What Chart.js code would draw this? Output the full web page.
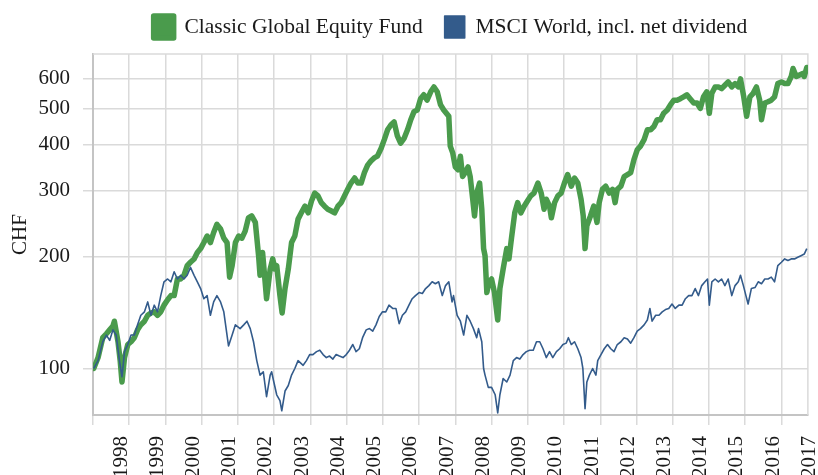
<!DOCTYPE html>
<html>
<head>
<meta charset="utf-8">
<script src="https://cdn.jsdelivr.net/npm/chart.js@4"></script>
<style>
  html, body { margin: 0; padding: 0; background: #fff; overflow: hidden; }
  #wrap { width: 818px; height: 480px; }
</style>
</head>
<body>
<div id="wrap"><canvas id="perf" width="818" height="480"></canvas></div>
<script>
const green = "#4a9b4c";
const blue = "#335b8b";

const yearLabels = [1998, 1999, 2000, 2001, 2002, 2003, 2004, 2005, 2006, 2007,
  2008, 2009, 2010, 2011, 2012, 2013, 2014, 2015, 2016, 2017];
const yTicks = [100, 200, 300, 400, 500, 600];

// Classic Global Equity Fund (indexed, CHF)
const fundDates = [
  1998.02, 1998.14, 1998.27, 1998.37, 1998.46, 1998.55, 1998.59, 1998.69, 1998.75, 1998.80,
  1998.87, 1998.96, 1999.05, 1999.14, 1999.23, 1999.32, 1999.42, 1999.51, 1999.60, 1999.69,
  1999.78, 1999.87, 1999.96, 2000.06, 2000.15, 2000.24, 2000.33, 2000.42, 2000.51, 2000.60,
  2000.69, 2000.79, 2000.88, 2000.97, 2001.06, 2001.15, 2001.24, 2001.33, 2001.42, 2001.52,
  2001.61, 2001.70, 2001.77, 2001.84, 2001.93, 2002.02, 2002.11, 2002.20, 2002.29, 2002.38,
  2002.48, 2002.57, 2002.61, 2002.68, 2002.75, 2002.79, 2002.89, 2002.96, 2003.02, 2003.07,
  2003.16, 2003.22, 2003.30, 2003.39, 2003.48, 2003.57, 2003.66, 2003.75, 2003.85, 2003.94,
  2004.03, 2004.12, 2004.21, 2004.30, 2004.39, 2004.48, 2004.58, 2004.67, 2004.76, 2004.85,
  2004.94, 2005.03, 2005.12, 2005.22, 2005.31, 2005.40, 2005.49, 2005.58, 2005.67, 2005.76,
  2005.85, 2005.95, 2006.04, 2006.13, 2006.22, 2006.31, 2006.40, 2006.49, 2006.59, 2006.68,
  2006.77, 2006.86, 2006.95, 2007.04, 2007.13, 2007.22, 2007.32, 2007.41, 2007.50, 2007.59,
  2007.68, 2007.82, 2007.86, 2007.93, 2008.00, 2008.07, 2008.14, 2008.20, 2008.27, 2008.35,
  2008.41, 2008.47, 2008.53, 2008.59, 2008.67, 2008.73, 2008.78, 2008.82, 2008.87, 2008.93,
  2009.00, 2009.08, 2009.11, 2009.17, 2009.23, 2009.32, 2009.42, 2009.48, 2009.55, 2009.64,
  2009.72, 2009.81, 2009.90, 2009.99, 2010.08, 2010.17, 2010.28, 2010.37, 2010.45, 2010.51,
  2010.60, 2010.65, 2010.74, 2010.83, 2010.92, 2011.01, 2011.10, 2011.20, 2011.29, 2011.38,
  2011.47, 2011.53, 2011.58, 2011.63, 2011.73, 2011.82, 2011.91, 2011.97, 2012.06, 2012.15,
  2012.25, 2012.34, 2012.41, 2012.47, 2012.57, 2012.66, 2012.75, 2012.84, 2012.93, 2013.02,
  2013.11, 2013.21, 2013.30, 2013.39, 2013.48, 2013.57, 2013.66, 2013.75, 2013.85, 2013.94,
  2014.03, 2014.12, 2014.21, 2014.30, 2014.39, 2014.48, 2014.58, 2014.67, 2014.76, 2014.85,
  2014.94, 2015.01, 2015.08, 2015.17, 2015.26, 2015.35, 2015.44, 2015.53, 2015.63, 2015.72,
  2015.81, 2015.87, 2015.96, 2016.04, 2016.13, 2016.22, 2016.31, 2016.40, 2016.45, 2016.54,
  2016.63, 2016.72, 2016.81, 2016.90, 2017.00, 2017.09, 2017.18, 2017.27, 2017.32, 2017.41,
  2017.50, 2017.59, 2017.63, 2017.70
];
const fundValues = [
  100, 107, 121, 124, 127, 130, 134, 118, 105, 92,
  107, 116, 118, 121, 127, 131, 134, 139, 141, 142,
  139, 142, 148, 153, 157, 157, 174, 174, 178, 189,
  193, 197, 205, 210, 218, 227, 218, 232, 244, 237,
  224, 218, 176, 189, 218, 227, 224, 234, 254, 257,
  247, 201, 178, 205, 171, 154, 185, 197, 185, 189,
  157, 141, 164, 185, 218, 227, 252, 262, 273, 262,
  282, 296, 291, 279, 273, 268, 265, 262, 273, 279,
  291, 303, 315, 325, 315, 315, 336, 352, 361, 368,
  372, 390, 412, 438, 451, 460, 422, 403, 416, 438,
  466, 490, 495, 531, 544, 526, 554, 571, 554, 512,
  495, 476, 396, 379, 348, 342, 372, 328, 336, 348,
  328, 291, 257, 296, 315, 268, 210, 201, 160, 171,
  174, 160, 151, 135, 164, 185, 210, 197, 224, 262,
  279, 262, 273, 282, 291, 296, 315, 296, 268, 285,
  273, 254, 279, 291, 296, 315, 332, 309, 325, 315,
  285, 257, 210, 242, 257, 273, 247, 279, 303, 309,
  296, 303, 279, 303, 309, 328, 332, 336, 364, 387,
  396, 412, 438, 438, 447, 466, 466, 485, 495, 512,
  526, 526, 531, 537, 544, 531, 517, 517, 500, 537,
  554, 485, 549, 571, 571, 565, 577, 589, 571, 583,
  571, 600, 537, 476, 537, 549, 571, 526, 466, 517,
  521, 526, 537, 583, 589, 583, 583, 609, 640, 609,
  615, 621, 609, 644
];

// MSCI World, incl. net dividend (indexed, CHF)
const msciDates = [
  1998.02, 1998.14, 1998.27, 1998.37, 1998.46, 1998.55, 1998.64, 1998.73, 1998.80, 1998.87,
  1998.96, 1999.05, 1999.14, 1999.23, 1999.32, 1999.42, 1999.51, 1999.60, 1999.69, 1999.78,
  1999.87, 1999.96, 2000.06, 2000.15, 2000.24, 2000.33, 2000.42, 2000.51, 2000.60, 2000.69,
  2000.79, 2000.88, 2000.97, 2001.06, 2001.15, 2001.24, 2001.33, 2001.42, 2001.52, 2001.61,
  2001.74, 2001.84, 2001.93, 2002.06, 2002.16, 2002.25, 2002.34, 2002.43, 2002.52, 2002.61,
  2002.70, 2002.79, 2002.89, 2002.93, 2002.98, 2003.07, 2003.16, 2003.21, 2003.30, 2003.39,
  2003.48, 2003.57, 2003.66, 2003.80, 2003.89, 2003.98, 2004.07, 2004.17, 2004.26, 2004.35,
  2004.44, 2004.53, 2004.62, 2004.71, 2004.80, 2004.90, 2004.99, 2005.08, 2005.17, 2005.26,
  2005.35, 2005.44, 2005.54, 2005.63, 2005.72, 2005.81, 2005.90, 2005.99, 2006.08, 2006.17,
  2006.27, 2006.36, 2006.45, 2006.54, 2006.63, 2006.72, 2006.81, 2006.90, 2007.00, 2007.09,
  2007.18, 2007.27, 2007.36, 2007.45, 2007.54, 2007.64, 2007.73, 2007.82, 2007.91, 2007.95,
  2008.05, 2008.14, 2008.23, 2008.32, 2008.41, 2008.50, 2008.59, 2008.64, 2008.73, 2008.78,
  2008.82, 2008.91, 2009.00, 2009.10, 2009.17, 2009.23, 2009.32, 2009.42, 2009.51, 2009.60,
  2009.69, 2009.78, 2009.87, 2009.96, 2010.05, 2010.15, 2010.24, 2010.33, 2010.42, 2010.51,
  2010.60, 2010.69, 2010.79, 2010.88, 2010.97, 2011.06, 2011.12, 2011.20, 2011.29, 2011.38,
  2011.47, 2011.52, 2011.58, 2011.63, 2011.70, 2011.79, 2011.88, 2011.93, 2012.02, 2012.11,
  2012.20, 2012.29, 2012.38, 2012.47, 2012.57, 2012.66, 2012.75, 2012.84, 2012.93, 2013.02,
  2013.11, 2013.21, 2013.30, 2013.37, 2013.43, 2013.53, 2013.62, 2013.71, 2013.80, 2013.89,
  2013.98, 2014.07, 2014.17, 2014.26, 2014.35, 2014.44, 2014.53, 2014.62, 2014.71, 2014.80,
  2014.89, 2014.96, 2015.01, 2015.08, 2015.17, 2015.26, 2015.35, 2015.44, 2015.53, 2015.63,
  2015.72, 2015.81, 2015.87, 2015.95, 2016.02, 2016.08, 2016.17, 2016.27, 2016.36, 2016.45,
  2016.54, 2016.63, 2016.72, 2016.81, 2016.90, 2017.00, 2017.09, 2017.18, 2017.27, 2017.36,
  2017.45, 2017.54, 2017.63, 2017.70
];
const msciValues = [
  100, 105, 118, 123, 119, 127, 123, 105, 95, 111,
  116, 123, 123, 131, 139, 142, 151, 139, 148, 142,
  157, 171, 174, 171, 182, 174, 178, 174, 178, 187,
  178, 171, 164, 154, 157, 139, 151, 157, 151, 142,
  115, 123, 131, 128, 131, 134, 128, 118, 105, 96,
  98, 84, 96, 98, 93, 85, 82, 77, 87, 90,
  96, 100, 105, 102, 105, 109, 109, 111, 112, 109,
  107, 108, 106, 109, 108, 107, 109, 112, 116, 111,
  113, 121, 127, 128, 126, 131, 138, 142, 142, 148,
  145, 145, 132, 139, 142, 148, 154, 157, 160, 159,
  164, 167, 171, 169, 171, 157, 167, 171, 151, 157,
  139, 134, 123, 139, 134, 128, 121, 128, 118, 100,
  96, 89, 89, 85, 76, 85, 94, 92, 96, 105,
  107, 106, 109, 111, 112, 112, 118, 118, 113, 107,
  111, 107, 111, 113, 116, 117, 121, 116, 118, 113,
  107, 100, 78, 92, 96, 100, 96, 105, 109, 113,
  116, 113, 111, 116, 118, 121, 120, 117, 121, 126,
  128, 131, 135, 145, 134, 139, 139, 142, 144, 145,
  149, 145, 148, 148, 154, 157, 157, 164, 157, 167,
  171, 174, 148, 171, 174, 171, 174, 167, 174, 157,
  167, 171, 178, 167, 157, 149, 164, 165, 171, 169,
  174, 174, 176, 171, 189, 193, 197, 195, 197, 197,
  199, 201, 203, 210
];

const serif = "'Liberation Serif', 'Times New Roman', serif";
const textColor = "#1a1a1a";
const gridColor = "#dadada";
const axisColor = "#c4c4c4";

const toPoints = (xs, ys) => xs.map((x, i) => ({ x: x, y: ys[i] }));

// light frame on the top and right edge of the plot area
const frame = {
  id: "frame",
  beforeDatasetsDraw(chart) {
    const a = chart.chartArea;
    const ctx = chart.ctx;
    ctx.save();
    ctx.strokeStyle = gridColor;
    ctx.lineWidth = 1.5;
    ctx.beginPath();
    ctx.moveTo(a.left, a.top);
    ctx.lineTo(a.right, a.top);
    ctx.lineTo(a.right, a.bottom);
    ctx.stroke();
    ctx.restore();
  },
};

new Chart(document.getElementById("perf"), {
  type: "line",
  data: {
    datasets: [
      {
        label: "Classic Global Equity Fund",
        data: toPoints(fundDates, fundValues),
        borderColor: green,
        backgroundColor: green,
        borderWidth: 5.5,
        borderJoinStyle: "round",
        borderCapStyle: "round",
        pointRadius: 0,
        order: 1,
      },
      {
        label: "MSCI World, incl. net dividend",
        data: toPoints(msciDates, msciValues),
        borderColor: blue,
        backgroundColor: blue,
        borderWidth: 1.6,
        borderJoinStyle: "round",
        pointRadius: 0,
        order: 0,
      },
    ],
  },
  options: {
    responsive: false,
    animation: false,
    layout: { padding: { top: -6, right: 5, left: 0, bottom: 0 } },
    plugins: {
      legend: {
        position: "top",
        fullSize: false,
        weight: 3000,
        labels: {
          boxWidth: 20,
          boxHeight: 22,
          padding: 22,
          color: textColor,
          font: { family: serif, size: 21.5 },
          sort: (a, b) => a.datasetIndex - b.datasetIndex,
        },
      },
      title: { display: true, text: "", weight: 2000, padding: 0, font: { size: 6, lineHeight: 1 } },
      tooltip: { enabled: false },
    },
    scales: {
      x: {
        type: "linear",
        min: 1998,
        max: 2017.73,
        afterBuildTicks: (s) => { s.ticks = yearLabels.map((v) => ({ value: v })); },
        afterFit: (s) => { s.height = 65; },
        grid: { color: gridColor, lineWidth: 1.5, tickLength: 10 },
        border: { color: axisColor, width: 2 },
        ticks: {
          autoSkip: false,
          minRotation: 90,
          maxRotation: 90,
          padding: 11,
          labelOffset: 28,
          color: textColor,
          font: { family: serif, size: 21 },
          callback: (v) => String(v),
        },
      },
      y: {
        type: "logarithmic",
        min: 75,
        max: 700,
        afterBuildTicks: (s) => { s.ticks = yTicks.map((v) => ({ value: v })); },
        afterFit: (s) => { s.width = 93; },
        grid: { color: gridColor, lineWidth: 1.5, tickLength: 10 },
        border: { color: axisColor, width: 2 },
        ticks: {
          padding: 13,
          color: textColor,
          font: { family: serif, size: 21 },
          callback: (v) => String(v),
        },
        title: {
          display: true,
          text: "CHF",
          color: textColor,
          padding: { top: 8, bottom: 0 },
          font: { family: serif, size: 21 },
        },
      },
    },
  },
  plugins: [frame],
});
</script>
</body>
</html>
